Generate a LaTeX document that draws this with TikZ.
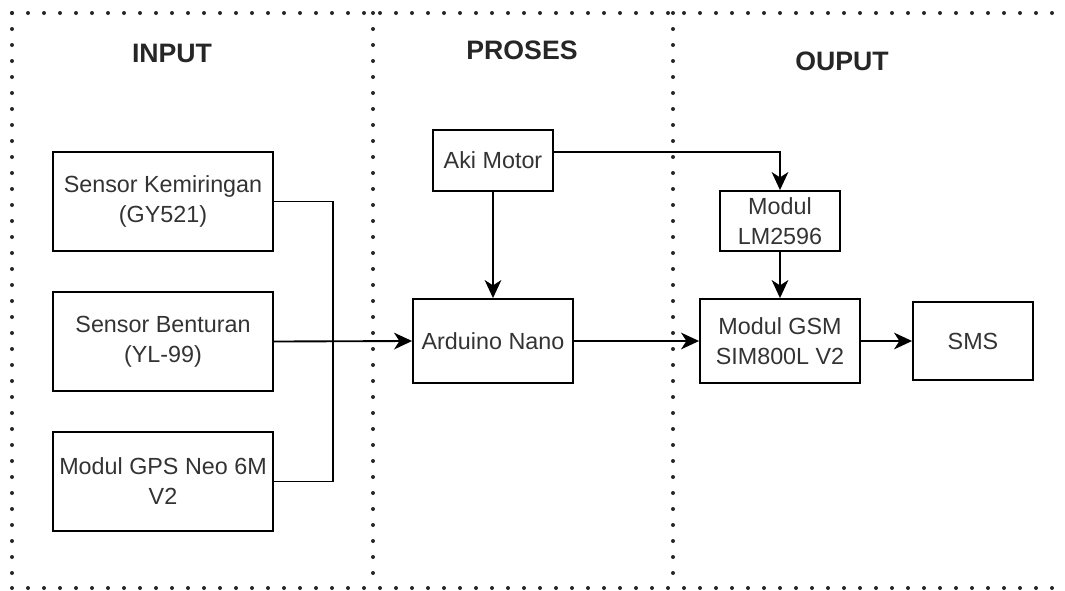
\documentclass[tikz,border=0pt]{standalone}
\usepackage{fontspec}
\setmainfont{Liberation Sans}
\usetikzlibrary{arrows.meta}

\begin{document}
\begin{tikzpicture}[x=0.75pt,y=-0.75pt,
  block/.style={draw, line width=1.4pt, align=center, text=black!80,
    font=\fontsize{17.5}{22.5}\selectfont, inner sep=0pt},
  title/.style={font=\fontsize{20}{24}\selectfont\bfseries, text=black!85},
  zone/.style={line width=3pt, line cap=round, dash pattern=on 0pt off 12pt, black!85},
  link/.style={line width=1.4pt, -{Stealth[length=13.5pt,width=12.5pt,inset=4pt]}},
  wire/.style={line width=1.4pt}]
\useasboundingbox (0,0) rectangle (1065,590);

% zone borders
\draw[zone] (12,13) -- (1065,13);
\draw[zone] (12,13) -- (12,588);
\draw[zone] (12,588) -- (1065,588);
\draw[zone] (373,13) -- (373,588);
\draw[zone] (673,13) -- (673,588);

\node[title] (tInput) at (172,53) {INPUT};
\node[title] (tProses) at (522,50) {PROSES};
\node[title] (tOutput) at (842,61) {OUPUT};

% input side
\node[block, minimum width=220*0.75pt, minimum height=99*0.75pt] (kemiringan) at (163,201.5) {Sensor Kemiringan\\(GY521)};
\node[block, minimum width=220*0.75pt, minimum height=99*0.75pt] (benturan) at (163,341.5) {Sensor Benturan\\(YL-99)};
\node[block, minimum width=220*0.75pt, minimum height=99*0.75pt] (gps) at (163,481.5) {Modul GPS Neo 6M\\V2};

% proses
\node[block, minimum width=120*0.75pt, minimum height=61*0.75pt] (aki) at (493,160.5) {Aki Motor};
\node[block, minimum width=160*0.75pt, minimum height=84*0.75pt] (arduino) at (493,341) {Arduino Nano};

% output side
\node[block, minimum width=120*0.75pt, minimum height=60*0.75pt] (lm) at (780,221) {Modul\\LM2596};
\node[block, minimum width=160*0.75pt, minimum height=84*0.75pt] (gsm) at (780,341) {Modul GSM\\SIM800L V2};
\node[block, minimum width=120*0.75pt, minimum height=78*0.75pt] (sms) at (973,341) {SMS};

\coordinate (bus) at (333,341);
\draw[wire] (kemiringan.east) -| (bus) |- (gps.east);
\draw[link] (benturan.east) -- (arduino.west);
\draw[link] (aki.south) -- (arduino.north);
\draw[link] ([yshift=6.5pt]aki.east) -| (lm.north);
\draw[link] (lm.south) -- (gsm.north);
\draw[link] (arduino.east) -- (gsm.west);
\draw[link] (gsm.east) -- (sms.west);
\end{tikzpicture}
\end{document}
